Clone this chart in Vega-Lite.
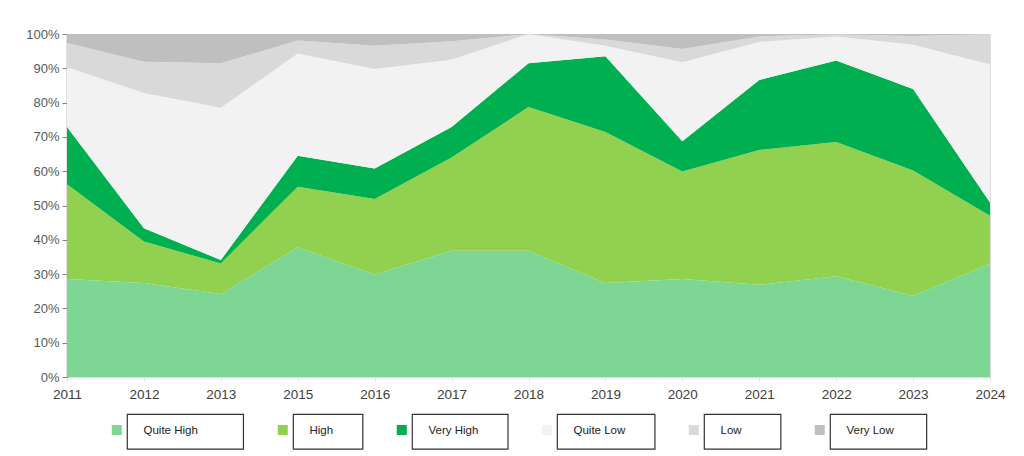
{
  "$schema": "https://vega.github.io/schema/vega-lite/v6.json",
  "autosize": {"type": "none"},
  "padding": {"left": 67, "top": 34, "right": 34, "bottom": 79},
  "width": 923,
  "height": 343,
  "background": "white",
  "data": {
    "values": [
      {"year": "2011", "level": "Quite High", "pct": 28.6},
      {"year": "2011", "level": "High", "pct": 27.6},
      {"year": "2011", "level": "Very High", "pct": 16.7},
      {"year": "2011", "level": "Quite Low", "pct": 17.4},
      {"year": "2011", "level": "Low", "pct": 7.1},
      {"year": "2011", "level": "Very Low", "pct": 2.6},
      {"year": "2012", "level": "Quite High", "pct": 27.4},
      {"year": "2012", "level": "High", "pct": 12.1},
      {"year": "2012", "level": "Very High", "pct": 3.9},
      {"year": "2012", "level": "Quite Low", "pct": 39.4},
      {"year": "2012", "level": "Low", "pct": 9.1},
      {"year": "2012", "level": "Very Low", "pct": 8.1},
      {"year": "2013", "level": "Quite High", "pct": 24.2},
      {"year": "2013", "level": "High", "pct": 8.9},
      {"year": "2013", "level": "Very High", "pct": 1.0},
      {"year": "2013", "level": "Quite Low", "pct": 44.4},
      {"year": "2013", "level": "Low", "pct": 13.0},
      {"year": "2013", "level": "Very Low", "pct": 8.5},
      {"year": "2015", "level": "Quite High", "pct": 37.8},
      {"year": "2015", "level": "High", "pct": 17.7},
      {"year": "2015", "level": "Very High", "pct": 9.0},
      {"year": "2015", "level": "Quite Low", "pct": 29.8},
      {"year": "2015", "level": "Low", "pct": 3.8},
      {"year": "2015", "level": "Very Low", "pct": 1.9},
      {"year": "2016", "level": "Quite High", "pct": 29.9},
      {"year": "2016", "level": "High", "pct": 22.0},
      {"year": "2016", "level": "Very High", "pct": 8.9},
      {"year": "2016", "level": "Quite Low", "pct": 29.0},
      {"year": "2016", "level": "Low", "pct": 6.8},
      {"year": "2016", "level": "Very Low", "pct": 3.4},
      {"year": "2017", "level": "Quite High", "pct": 36.8},
      {"year": "2017", "level": "High", "pct": 27.2},
      {"year": "2017", "level": "Very High", "pct": 8.9},
      {"year": "2017", "level": "Quite Low", "pct": 19.6},
      {"year": "2017", "level": "Low", "pct": 5.4},
      {"year": "2017", "level": "Very Low", "pct": 2.1},
      {"year": "2018", "level": "Quite High", "pct": 36.8},
      {"year": "2018", "level": "High", "pct": 41.9},
      {"year": "2018", "level": "Very High", "pct": 12.8},
      {"year": "2018", "level": "Quite Low", "pct": 8.5},
      {"year": "2018", "level": "Low", "pct": 0},
      {"year": "2018", "level": "Very Low", "pct": 0},
      {"year": "2019", "level": "Quite High", "pct": 27.4},
      {"year": "2019", "level": "High", "pct": 44.0},
      {"year": "2019", "level": "Very High", "pct": 22.1},
      {"year": "2019", "level": "Quite Low", "pct": 3.1},
      {"year": "2019", "level": "Low", "pct": 1.8},
      {"year": "2019", "level": "Very Low", "pct": 1.6},
      {"year": "2020", "level": "Quite High", "pct": 28.6},
      {"year": "2020", "level": "High", "pct": 31.3},
      {"year": "2020", "level": "Very High", "pct": 8.8},
      {"year": "2020", "level": "Quite Low", "pct": 23.1},
      {"year": "2020", "level": "Low", "pct": 3.8},
      {"year": "2020", "level": "Very Low", "pct": 4.4},
      {"year": "2021", "level": "Quite High", "pct": 26.9},
      {"year": "2021", "level": "High", "pct": 39.3},
      {"year": "2021", "level": "Very High", "pct": 20.4},
      {"year": "2021", "level": "Quite Low", "pct": 11.1},
      {"year": "2021", "level": "Low", "pct": 1.6},
      {"year": "2021", "level": "Very Low", "pct": 0.7},
      {"year": "2022", "level": "Quite High", "pct": 29.4},
      {"year": "2022", "level": "High", "pct": 39.1},
      {"year": "2022", "level": "Very High", "pct": 23.8},
      {"year": "2022", "level": "Quite Low", "pct": 7.0},
      {"year": "2022", "level": "Low", "pct": 0.6},
      {"year": "2022", "level": "Very Low", "pct": 0.1},
      {"year": "2023", "level": "Quite High", "pct": 23.7},
      {"year": "2023", "level": "High", "pct": 36.5},
      {"year": "2023", "level": "Very High", "pct": 23.8},
      {"year": "2023", "level": "Quite Low", "pct": 12.9},
      {"year": "2023", "level": "Low", "pct": 2.5},
      {"year": "2023", "level": "Very Low", "pct": 0.6},
      {"year": "2024", "level": "Quite High", "pct": 33.0},
      {"year": "2024", "level": "High", "pct": 14.0},
      {"year": "2024", "level": "Very High", "pct": 3.9},
      {"year": "2024", "level": "Quite Low", "pct": 40.2},
      {"year": "2024", "level": "Low", "pct": 8.9},
      {"year": "2024", "level": "Very Low", "pct": 0}
    ]
  },
  "transform": [
    {"calculate": "indexof(['Quite High','High','Very High','Quite Low','Low','Very Low'], datum.level)", "as": "rank"}
  ],
  "mark": {"type": "area", "interpolate": "linear"},
  "encoding": {
    "x": {
      "field": "year",
      "type": "ordinal",
      "scale": {"type": "point", "padding": 0},
      "axis": {
        "title": null,
        "labelAngle": 0,
        "labelFont": "Liberation Sans",
        "labelFontSize": 13.5,
        "labelColor": "#404040",
        "labelPadding": 6,
        "domain": false,
        "ticks": true,
        "tickColor": "#e0e0e0",
        "tickSize": 4
      }
    },
    "y": {
      "field": "pct",
      "type": "quantitative",
      "stack": "zero",
      "scale": {"domain": [0, 100], "nice": false},
      "axis": {
        "title": null,
        "values": [0, 10, 20, 30, 40, 50, 60, 70, 80, 90, 100],
        "labelExpr": "datum.value + '%'",
        "labelFont": "Liberation Sans",
        "labelFontSize": 13,
        "labelColor": "#595959",
        "labelPadding": 3,
        "grid": false,
        "domainColor": "#868686",
        "domainWidth": 1.5,
        "tickColor": "#868686",
        "tickSize": 5
      }
    },
    "order": {"field": "rank", "type": "quantitative", "sort": "ascending"},
    "color": {
      "field": "level",
      "type": "nominal",
      "scale": {
        "domain": ["Quite High", "High", "Very High", "Quite Low", "Low", "Very Low"],
        "range": ["#7dd694", "#92d050", "#00b050", "#f2f2f2", "#d9d9d9", "#bfbfbf"]
      },
      "legend": {
        "title": null,
        "orient": "none",
        "legendX": 60,
        "legendY": 380,
        "direction": "horizontal",
        "columns": 6,
        "gridAlign": "none",
        "columnPadding": 33,
        "padding": 0,
        "symbolType": "square",
        "symbolSize": 100,
        "symbolStrokeWidth": 0,
        "symbolOffset": -16,
        "labelOffset": 21,
        "labelFont": "Liberation Sans",
        "labelFontSize": 11.5,
        "labelColor": "#222222",
        "labelLimit": 300,
        "labelExpr": "['\u00a0', pad(datum.label, length(datum.label) + (datum.label == 'Quite High' ? 14 : datum.label == 'Low' ? 12 : datum.label == 'Very Low' ? 10 : 9), '\u00a0') + '\u200b', '\u00a0']",
        "encoding": {
          "entries": {
            "stroke": {"value": "#333333"},
            "strokeWidth": {"value": 1.2},
            "fill": {"value": "white"}
          },
          "labels": {"lineHeight": {"value": 11.5}},
          "symbols": {"y": {"value": 16}}
        }
      }
    }
  }
}
